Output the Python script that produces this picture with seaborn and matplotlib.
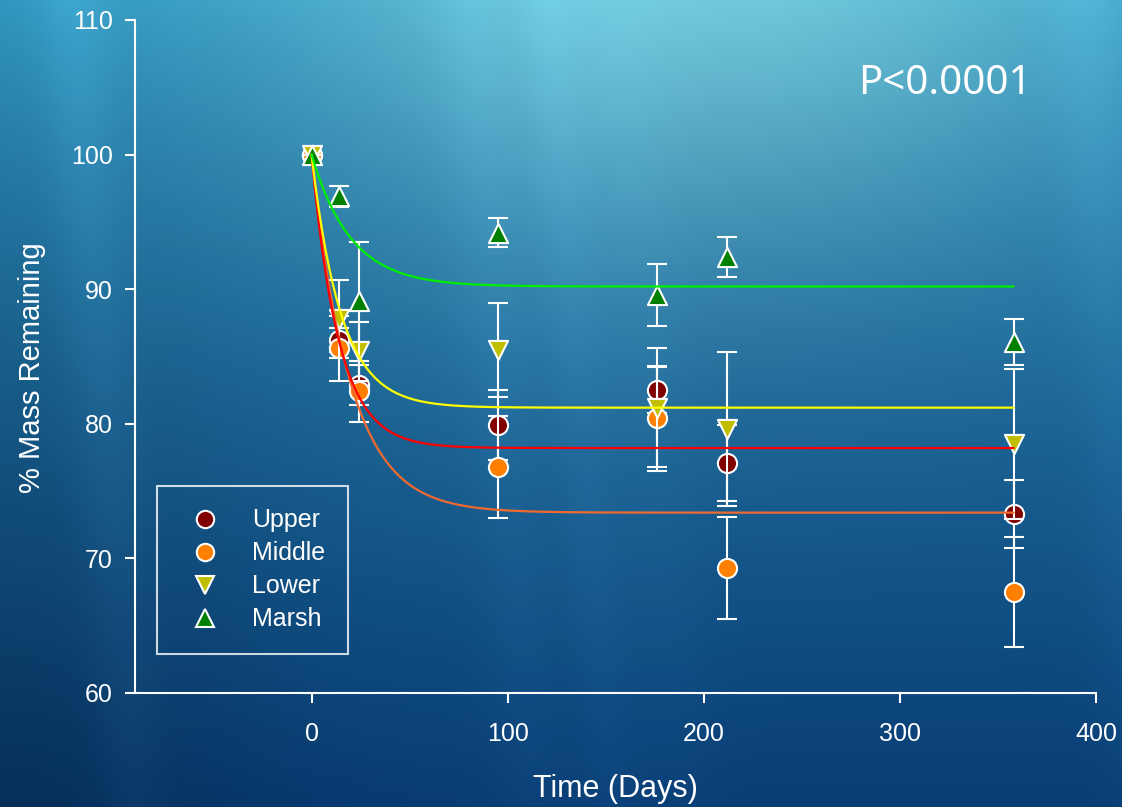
import numpy as np
import pandas as pd
import matplotlib
matplotlib.use("Agg")
import matplotlib.pyplot as plt
from matplotlib.lines import Line2D
import seaborn as sns

# Sampling days and mean % mass remaining (± error) for each zone
days = [0, 14, 24, 95, 176, 212, 358]
upper = [100, 86.2, 82.9, 79.9, 82.5, 77.1, 73.3]
upper_err = [0, 0.9, 1.5, 2.6, 1.7, 2.8, 2.5]
middle = [100, 85.6, 82.4, 76.8, 80.4, 69.3, 67.5]
middle_err = [0, 2.4, 2.3, 3.8, 3.9, 3.8, 4.1]
lower = [100, 87.8, 85.4, 85.5, 81.2, 79.6, 78.5]
lower_err = [0, 2.9, 2.2, 3.5, 4.4, 5.7, 5.6]
marsh = [100, 96.9, 89.1, 94.2, 89.6, 92.4, 86.1]
marsh_err = [0, 0.8, 4.4, 1.1, 2.3, 1.5, 1.7]

zones = ["Upper", "Middle", "Lower", "Marsh"]
means = [upper, middle, lower, marsh]
errors = [upper_err, middle_err, lower_err, marsh_err]
marker_colors = ["#800000", "#FF8000", "#BFBF00", "#008000"]
markers = ["o", "o", "v", "^"]

# Exponential decay fits: y = plateau + (100 - plateau) * exp(-rate * t)
fit_plateau = [78.2, 73.4, 81.2, 90.2]
fit_rate = [0.072, 0.051, 0.066, 0.050]
fit_colors = ["#FF0000", "#F06A30", "#FFFF00", "#00EE00"]
fit_end = 358

sns.set_theme(style="ticks")
plt.rcParams["font.family"] = ["Liberation Sans", "DejaVu Sans"]

fig = plt.figure(figsize=(11.22, 8.07), dpi=100)

# Underwater-style backdrop
H, W = 807, 1122
yy, xx = np.mgrid[0:H, 0:W].astype(float)
t = yy / H
top = np.array([45, 148, 190.0])
bot = np.array([8, 60, 116.0])
img = top[None, None, :] * (1 - t[..., None] ** 0.85) + bot[None, None, :] * (t[..., None] ** 0.85)
glow = np.exp(-((xx - 700) / 430) ** 2 - ((yy + 60) / 330) ** 2)
img += glow[..., None] * np.array([70, 55, 30.0])
dark = 1 - 0.22 * np.exp(-(xx / 260) ** 2) * t
img *= dark[..., None]
for cx, w, a in [(70, 35, 14), (470, 40, 10), (545, 30, 12), (610, 50, 8), (1085, 40, 12)]:
    ray = a * np.exp(-((xx - cx - 0.08 * yy) / w) ** 2) * (1 - 0.5 * t)
    img += ray[..., None] * np.array([0.6, 0.9, 1.0])
img = np.clip(img, 0, 255) / 255
bg = fig.add_axes([0, 0, 1, 1], zorder=-10)
bg.imshow(img, aspect="auto", interpolation="bilinear")
bg.set_axis_off()

ax = fig.add_axes([135 / 1122, 1 - 693 / 807, (1096 - 135) / 1122, (693 - 20) / 807])
ax.patch.set_alpha(0)

z = 2
for name, m, e, c, mk in zip(zones, means, errors, marker_colors, markers):
    ax.errorbar(days, m, yerr=e, fmt="none", ecolor="white", elinewidth=1.5,
                capsize=7, capthick=1.5, zorder=z)
    sns.scatterplot(x=days, y=m, ax=ax, color=c, marker=mk, s=190,
                    edgecolor="white", linewidth=1.5, zorder=z + 1, legend=False)
    z += 2

tt = np.linspace(0, fit_end, 400)
fit_rows = []
for name, p, k in zip(zones, fit_plateau, fit_rate):
    fit_rows.append(pd.DataFrame({"t": tt, "y": p + (100 - p) * np.exp(-k * tt), "zone": name}))
fits = pd.concat(fit_rows)
for name, c in [("Middle", fit_colors[1]), ("Upper", fit_colors[0]),
                ("Lower", fit_colors[2]), ("Marsh", fit_colors[3])]:
    sns.lineplot(data=fits[fits.zone == name], x="t", y="y", ax=ax, color=c,
                 linewidth=1.6, zorder=20, legend=False)

ax.set_xlim(-90, 400)
ax.set_ylim(60, 110)
ax.set_xticks([0, 100, 200, 300, 400])
ax.set_yticks([60, 70, 80, 90, 100, 110])
for side in ["top", "right"]:
    ax.spines[side].set_visible(False)
for side in ["left", "bottom"]:
    ax.spines[side].set_color("white")
    ax.spines[side].set_linewidth(1.5)
ax.tick_params(axis="both", colors="white", width=1.5, length=7, direction="out", labelsize=18)
ax.tick_params(axis="x", pad=14)
ax.tick_params(axis="y", pad=9)
ax.set_xlabel("Time (Days)", color="white", fontsize=22, labelpad=20)
ax.set_ylabel("% Mass Remaining", color="white", fontsize=21)
ax.yaxis.set_label_coords(-0.093, 0.484)

ax.text(0.933, 0.905, "P<0.0001", transform=ax.transAxes, ha="right", va="center",
        color="white", fontsize=29, family=["Noto Sans", "DejaVu Sans"])

handles = [Line2D([], [], linestyle="none", marker=mk, markersize=12.5, markerfacecolor=c,
                  markeredgecolor="white", markeredgewidth=1.5)
           for c, mk in zip(marker_colors, markers)]
leg = ax.legend(handles, zones, loc="lower left", bbox_to_anchor=(0.0229, 0.058),
                frameon=True, fontsize=18, labelspacing=0.36, borderpad=0.9,
                handlelength=2.0, handletextpad=0.9, borderaxespad=0)
leg.get_frame().set_facecolor("none")
leg.get_frame().set_edgecolor("white")
leg.get_frame().set_linewidth(1.5)
leg.get_frame().set_boxstyle("square", pad=0)
for txt in leg.get_texts():
    txt.set_color("white")

fig.savefig("out.png", dpi=100)
